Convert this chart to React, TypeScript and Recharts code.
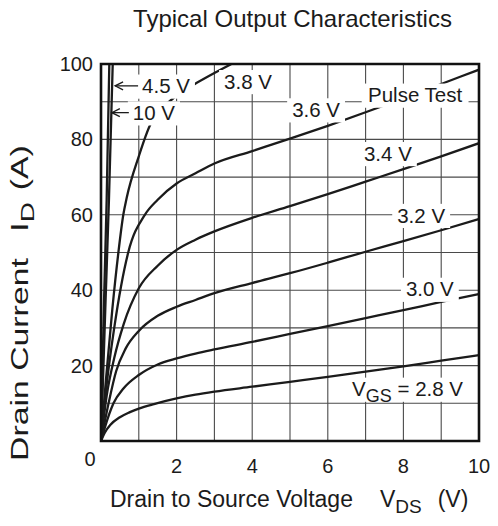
import React from "react";
import {
  LineChart,
  Line,
  XAxis,
  YAxis,
  ReferenceLine,
  ReferenceDot,
  ReferenceArea,
} from "recharts";

const FONT = '"Liberation Sans", Arial, Helvetica, sans-serif';
const INK = "#1b1b1b";

const xTicks = [0, 2, 4, 6, 8, 10];
const yTicks = [20, 40, 60, 80, 100];
const gridV = [1, 2, 3, 4, 5, 6, 7, 8, 9];
const gridI = [10, 20, 30, 40, 50, 60, 70, 80, 90];

// [V_DS (V), I_D (A)]
const vgs10: number[][] = [[0, 0], [0.08, 37], [0.15, 64], [0.22, 100]];
const vgs45: number[][] = [[0, 0], [0.12, 37], [0.21, 64], [0.31, 100]];
const vgs38: number[][] = [
  [0, 0], [0.12, 15], [0.3, 35], [0.46, 50], [0.59, 60], [0.68, 64.5], [1.0, 75.5],
  [1.3, 83.8], [1.6, 88], [1.91, 90.9], [2.2, 93], [2.57, 95.2], [3, 97.6], [3.45, 100],
];
const vgs36: number[][] = [
  [0, 0], [0.15, 15], [0.35, 30], [0.72, 50], [1.16, 60], [1.5, 64], [2, 68.3], [2.5, 71],
  [3, 73.6], [4, 76.9], [5, 80.2], [6, 83.6], [7, 87.2], [8, 90.9], [9, 94.7], [10, 98.5],
];
const vgs34: number[][] = [
  [0, 0], [0.15, 12], [0.35, 22], [0.6, 31], [1.0, 40.5], [1.5, 46.5], [2, 50.7], [2.5, 53.4],
  [3, 55.6], [4, 59.2], [5, 62.3], [6, 65.5], [7, 68.8], [8, 72.1], [9, 75.5], [10, 79],
];
const vgs32: number[][] = [
  [0, 0], [0.2, 10], [0.4, 18.5], [0.65, 24.5], [1.0, 29.2], [1.5, 33.2], [2, 35.6], [2.5, 37.4],
  [3, 39.2], [4, 41.9], [5, 44.5], [6, 47.3], [7, 50.2], [8, 53], [9, 55.9], [10, 58.9],
];
const vgs30: number[][] = [
  [0, 0], [0.1, 3.5], [0.33, 10], [0.6, 14], [1.0, 17.5], [1.5, 20.3], [2, 21.9], [2.5, 23.2],
  [3, 24.3], [4, 26.3], [5, 28.4], [6, 30.5], [7, 32.6], [8, 34.7], [9, 36.9], [10, 39],
];
const vgs28: number[][] = [
  [0, 0], [0.1, 2.2], [0.25, 4.3], [0.5, 6.3], [0.75, 7.6], [1.0, 8.6], [1.4, 9.8], [2, 11.3],
  [2.5, 12.3], [3, 13.1], [4, 14.4], [5, 15.7], [6, 17], [7, 18.4], [8, 19.8], [9, 21.3], [10, 22.8],
];

const curves = [vgs10, vgs45, vgs38, vgs36, vgs34, vgs32, vgs30, vgs28].map((c) =>
  c.map(([v, i]) => ({ v, i }))
);

type Part = { t: string; sub?: boolean };
type Note = { parts: Part[]; v: number; i: number; arrow?: number };

// annotation text, anchored at its centre in data units
const notes: Note[] = [
  { parts: [{ t: "4.5 V" }], v: 1.72, i: 94.2, arrow: 22 },
  { parts: [{ t: "10 V" }], v: 1.4, i: 87.1, arrow: 16 },
  { parts: [{ t: "3.8 V" }], v: 3.89, i: 95.4 },
  { parts: [{ t: "3.6 V" }], v: 5.69, i: 87.9 },
  { parts: [{ t: "Pulse Test" }], v: 8.31, i: 91.8 },
  { parts: [{ t: "3.4 V" }], v: 7.59, i: 76.3 },
  { parts: [{ t: "3.2 V" }], v: 8.47, i: 59.9 },
  { parts: [{ t: "3.0 V" }], v: 8.7, i: 40.3 },
  { parts: [{ t: "V" }, { t: "GS", sub: true }, { t: " = 2.8 V" }], v: 8.11, i: 13.8 },
];

const ADV: Record<string, number> = {
  ".": 0.278, " ": 0.278, V: 0.667, P: 0.667, u: 0.556, l: 0.222, s: 0.5, e: 0.556,
  T: 0.611, t: 0.278, "=": 0.584, G: 0.778, S: 0.667,
};
const textW = (s: string, fs: number) =>
  s.split("").reduce((a, c) => a + (ADV[c] ?? 0.556), 0) * fs;

const FS = 20.5;
const SUB = 18;

function Tag({ cx, cy, note }: { cx: number; cy: number; note: Note }) {
  const w = note.parts.reduce((a, p) => a + textW(p.t, p.sub ? SUB : FS), 0);
  const cap = 0.716 * FS;
  const bx = cx - w / 2 - 5;
  const by = cy - cap / 2 - 4;
  let prevSub = false;
  return (
    <g>
      <rect x={bx} y={by} width={w + 10} height={cap + 9.5} fill="#fff" />
      {note.arrow ? (
        <g stroke={INK} strokeWidth={1.3} fill="none">
          <line x1={bx - note.arrow} y1={cy} x2={bx + 1} y2={cy} />
          <polyline
            points={`${bx - note.arrow + 8},${cy - 4} ${bx - note.arrow},${cy} ${bx - note.arrow + 8},${cy + 4}`}
          />
        </g>
      ) : null}
      <text
        x={cx}
        y={cy + cap / 2}
        textAnchor="middle"
        fontSize={FS}
        fontFamily={FONT}
        fill={INK}
      >
        {note.parts.map((p, k) => {
          const dy = p.sub && !prevSub ? 6 : !p.sub && prevSub ? -6 : 0;
          prevSub = !!p.sub;
          return (
            <tspan key={k} dy={dy} fontSize={p.sub ? SUB : FS} style={{ whiteSpace: "pre" }}>
              {p.t}
            </tspan>
          );
        })}
      </text>
    </g>
  );
}

const XTick = (props: any) => {
  const { x, y, payload } = props;
  const zero = payload.value === 0;
  return (
    <text
      x={x + (zero ? -11 : 0)}
      y={y + (zero ? 18 : 25)}
      dy="0.35em"
      textAnchor="middle"
      fontSize={20}
      fontFamily={FONT}
      fill={INK}
    >
      {payload.value}
    </text>
  );
};

const YTick = (props: any) => {
  const { x, y, payload } = props;
  return (
    <text x={x - 8} y={y} dy="0.35em" textAnchor="end" fontSize={20} fontFamily={FONT} fill={INK}>
      {payload.value}
    </text>
  );
};

const XTitle = () => (
  <text x={102} y={499} fontSize={23} fontFamily={FONT} fill={INK}>
    <tspan>Drain to Source Voltage</tspan>
    <tspan dx={27}>V</tspan>
    <tspan dy={6} fontSize={19}>DS</tspan>
    <tspan dx={16} dy={-6}>(V)</tspan>
  </text>
);

// the vertical title is drawn longer than it is tall, as in the original
const YTitle = () => (
  <g transform="translate(20 453) rotate(-90) scale(1.47 1)">
    <text x={0} y={0} fontSize={23} fontFamily={FONT} fill={INK}>
      <tspan>Drain Current</tspan>
      <tspan dx={18}>I</tspan>
      <tspan dy={6} fontSize={19}>D</tspan>
      <tspan dx={8} dy={-6}>(A)</tspan>
    </text>
  </g>
);

export default function App() {
  return (
    <div style={{ position: "relative", width: 482, height: 510, fontFamily: FONT }}>
      <LineChart width={482} height={510} margin={{ top: 56, right: 11, bottom: 0, left: 0 }}>
        <XAxis
          type="number"
          dataKey="v"
          domain={[0, 10]}
          ticks={xTicks}
          interval={0}
          allowDataOverflow
          axisLine={false}
          tickLine={false}
          tickSize={0}
          tickMargin={0}
          height={77}
          tick={<XTick />}
          label={{ content: XTitle }}
        />
        <YAxis
          type="number"
          dataKey="i"
          domain={[0, 100]}
          ticks={yTicks}
          interval={0}
          allowDataOverflow
          axisLine={false}
          tickLine={false}
          tickSize={0}
          tickMargin={0}
          width={93}
          tick={<YTick />}
          label={{ content: YTitle }}
        />
        {gridV.map((v) => (
          <ReferenceLine key={"gv" + v} x={v} stroke="#4a4a4a" strokeWidth={1.1} zIndex={-100} />
        ))}
        {gridI.map((i) => (
          <ReferenceLine key={"gi" + i} y={i} stroke="#4a4a4a" strokeWidth={1.1} zIndex={-100} />
        ))}
        {curves.map((c, k) => (
          <Line
            key={k}
            data={c}
            dataKey="i"
            type="monotone"
            stroke={INK}
            strokeWidth={2.3}
            dot={false}
            activeDot={false}
            isAnimationActive={false}
          />
        ))}
        {notes.map((n, k) => (
          <ReferenceDot
            key={"n" + k}
            x={n.v}
            y={n.i}
            r={0}
            zIndex={1500}
            shape={(p: any) => <Tag cx={p.cx} cy={p.cy} note={n} />}
          />
        ))}
        <ReferenceArea
          x1={0}
          x2={10}
          y1={0}
          y2={100}
          fill="none"
          stroke="#111"
          strokeWidth={2.6}
          zIndex={1600}
        />
      </LineChart>
      <div
        style={{
          position: "absolute",
          left: 85,
          top: -1,
          width: 399,
          textAlign: "center",
          fontSize: 24,
          lineHeight: 1,
          color: INK,
          zIndex: 5,
          pointerEvents: "none",
        }}
      >
        Typical Output Characteristics
      </div>
    </div>
  );
}
